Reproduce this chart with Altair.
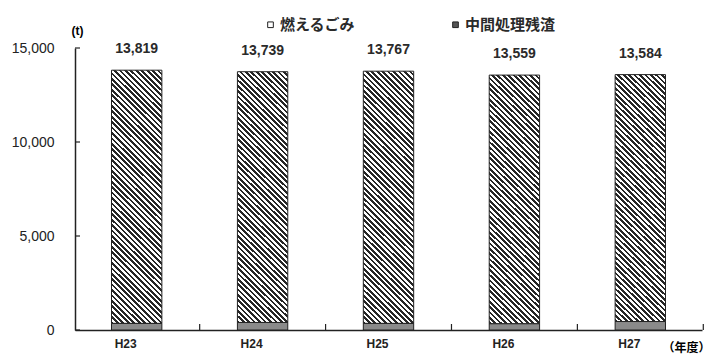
import altair as alt
import pandas as pd

years = ["H23", "H24", "H25", "H26", "H27"]
totals = [13819, 13739, 13767, 13559, 13584]
residue = [350, 400, 350, 330, 450]
y_ticks = [0, 5000, 10000, 15000]
series = ["燃えるごみ", "中間処理残渣"]

df = pd.DataFrame({"year": years, "total": totals, "residue": residue})
df["label"] = [f"{v:,}" for v in totals]
df["burn"] = df["total"] - df["residue"]
tick_df = pd.DataFrame({"v": y_ticks})

# hatch as a linear gradient with hard stops (style only)
w, h = 51.0, 258.0
a = (w + h) / (w * w + h * h)
N = 56
stops = []
for i in range(N):
    s0 = i / N
    s1 = (i + 0.5) / N
    s2 = (i + 1) / N
    stops += [
        {"offset": s0, "color": "#262626"},
        {"offset": s1, "color": "#262626"},
        {"offset": s1, "color": "#ffffff"},
        {"offset": s2, "color": "#ffffff"},
    ]
hatch = {"gradient": "linear", "x1": 0, "y1": 1, "x2": a * w, "y2": 1 - a * h, "stops": stops}

FONT = "Liberation Sans"
JFONT = "Noto Sans CJK JP"

yscale = alt.Scale(domain=[0, 15000], nice=False, zero=True)

xenc = alt.X(
    "year:N",
    sort=years,
    scale=alt.Scale(paddingInner=0.6, paddingOuter=0.29),
    axis=alt.Axis(
        title="（年度）",
        titleFont=JFONT,
        titleFontSize=12,
        titleFontWeight="bold",
        titleX=611,
        titleY=17,
        titleBaseline="middle",
        titleAlign="center",
        labelAngle=0,
        labelFont=FONT,
        labelFontSize=12,
        labelFontWeight="bold",
        labelPadding=13,
        labelColor="#222",
        ticks=False,
        domainColor="#222",
        domainWidth=1.5,
    ),
)
yaxis = alt.Axis(
    values=y_ticks,
    format=",.0f",
    title="(t)",
    titleAngle=0,
    titleX=2,
    titleY=-18,
    titleAlign="center",
    titleBaseline="middle",
    titleFont=FONT,
    titleFontSize=12,
    titleFontWeight="bold",
    labelFont=FONT,
    labelFontSize=14,
    labelColor="#222",
    labelPadding=21,
    ticks=False,
    grid=False,
    domainColor="#222",
    domainWidth=1.5,
)

base = alt.Chart(df)

resid_bar = base.mark_bar(fill="#8a8a8a", stroke="#222", strokeWidth=1).encode(
    x=xenc,
    y=alt.Y("residue:Q", scale=yscale, axis=yaxis),
)
burn_bar = base.mark_bar(fill=hatch, stroke="#222", strokeWidth=1).encode(
    x=alt.X("year:N", sort=years),
    y=alt.Y("residue:Q", scale=yscale),
    y2="total:Q",
)
labels = base.mark_text(
    font=FONT, fontSize=14, fontWeight="bold", color="#2a2a2a", dy=-21, baseline="middle"
).encode(
    x=alt.X("year:N", sort=years),
    y=alt.Y("total:Q", scale=yscale),
    text="label:N",
)
xticks = base.mark_rule(color="#222", strokeWidth=1.2, xOffset=37.8).encode(
    x=alt.X("year:N", sort=years, bandPosition=1),
    y=alt.value(282),
    y2=alt.value(276),
)
yticks = alt.Chart(tick_df).mark_rule(color="#222", strokeWidth=1.2).encode(
    y=alt.Y("v:Q", scale=yscale),
    x=alt.value(0),
    x2=alt.value(5),
)
legend_layer = (
    base.transform_fold(["burn", "residue"], as_=["key", "val"])
    .transform_calculate(series="datum.key == 'burn' ? '燃えるごみ' : '中間処理残渣'")
    .mark_square(filled=True, opacity=0)
    .encode(
        x=alt.X("year:N", sort=years),
        y=alt.Y("val:Q", scale=yscale),
        color=alt.Color(
            "series:N",
            scale=alt.Scale(domain=series, range=["#ffffff", "#555555"]),
            legend=alt.Legend(
                title=None,
                orient="none",
                legendX=188,
                legendY=-31,
                direction="horizontal",
                symbolType="square",
                symbolSize=32,
                symbolOpacity=1,
                symbolStrokeColor="#222",
                symbolStrokeWidth=1,
                labelFont=JFONT,
                labelFontSize=15,
                labelFontWeight="bold",
                labelColor="#2a2a2a",
                labelOffset=2,
                columnPadding=92,
            ),
        ),
    )
)

chart = (
    alt.layer(burn_bar, resid_bar, xticks, yticks, labels, legend_layer)
    .properties(
        width=627,
        height=282,
        padding={"left": 75, "top": 48, "right": 11, "bottom": 26},
        autosize=alt.AutoSizeParams(type="none"),
        background="#ffffff",
    )
    .configure_view(stroke=None)
)

chart.save("out.html", embed_options={"renderer": "svg", "actions": False})
